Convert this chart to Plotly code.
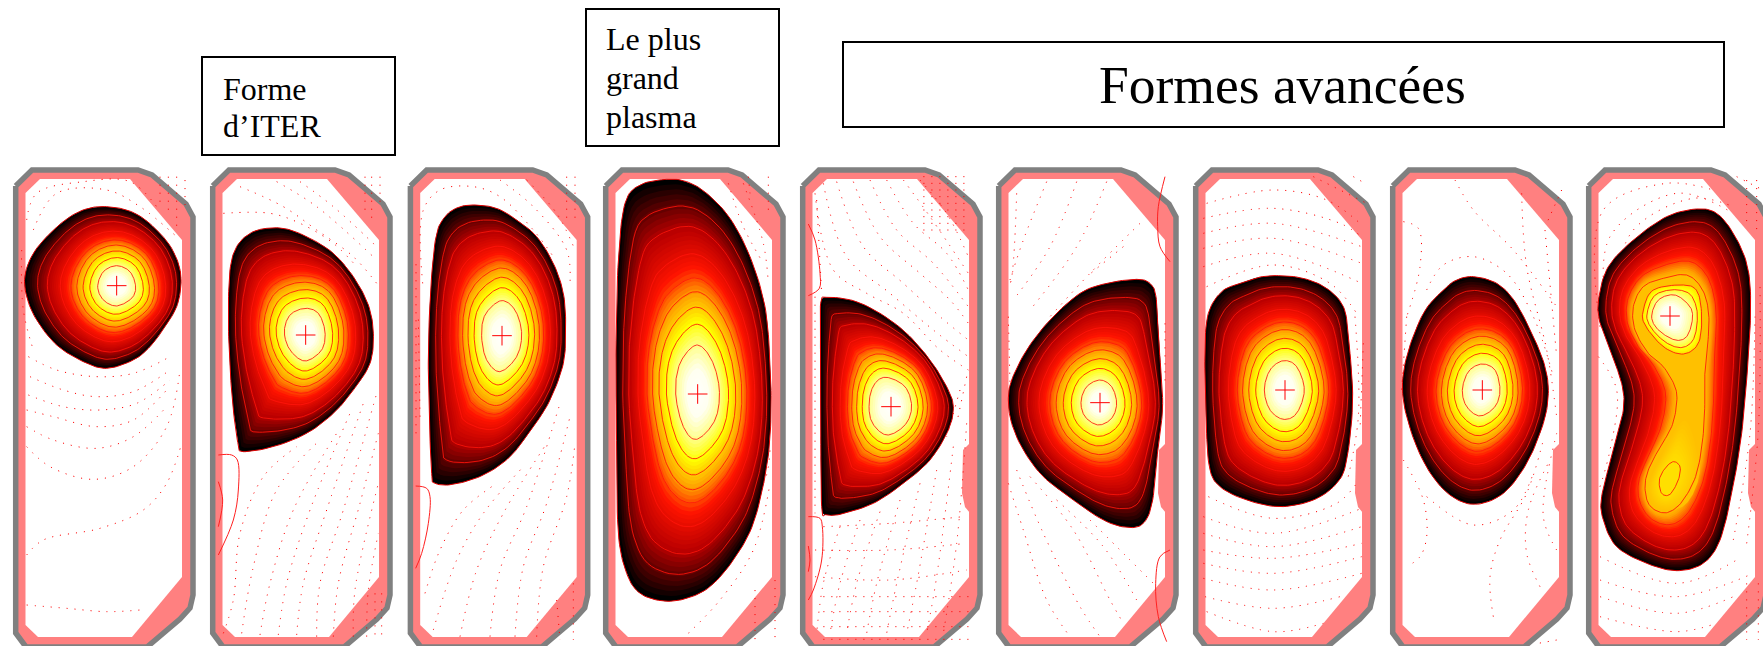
import numpy as np
import plotly.graph_objects as go

W, H = 1763, 646
CROP_Y = 150
panel_offset = [0, 197, 394.7, 590, 787, 983, 1180, 1377, 1573]
crop_x = [0, 0, 400, 400, 790, 790, 1180, 1180, 1400]

vessel_outline = [(15.7,186),(32,170),(138,170),(152,175),(186,204),(193,217),(193,595),(190,608),(180,619),(156,640),(147,647),(26,647),(15.7,633)]
vessel_inner = [(40,179),(130,179),(182,240),(182,577),(132,637),(38,637),(25.5,625),(25.5,193)]
vessel_bump = [(183,443),(176,450),(175,493),(178,507),(183,513)]
bump_panels = [4, 5, 6, 7, 8]

centres = [(350,407),(917,555),(306,557),(893,732),(303,770),(930,758),(315,720),(907,720),(810,498)]

plasma_1 = [(320,170),(380,180),(430,205),(480,250),(515,295),(538,350),(543,405),(530,470),(495,530),(450,590),(400,630),(320,655),(250,635),(170,585),(110,510),(80,440),(75,375),(100,310),(150,250),(210,200),(265,175)]
inner_1 = [(350,347),(390,365),(407,410),(395,445),(350,468),(310,450),(293,410),(310,365)]
plasma_2 = [(800,235),(860,237),(930,265),(1000,310),(1060,380),(1105,465),(1120,550),(1110,640),(1060,720),(1000,790),(920,850),(820,890),(730,905),(715,885),(700,780),(690,650),(685,500),(690,360),(710,290),(750,250)]
inner_2 = [(915,475),(955,490),(975,545),(965,600),(915,633),(870,600),(853,545),(870,495)]
plasma_3 = [(225,165),(290,175),(350,210),(410,260),(460,340),(490,430),(497,530),(490,640),(450,750),(400,830),(330,920),(250,975),(160,1003),(105,1000),(95,970),(88,800),(85,620),(92,420),(108,260),(135,200),(175,172)]
inner_3 = [(303,452),(345,480),(365,550),(350,620),(300,665),(260,630),(245,560),(255,495)]
plasma_4 = [(800,88),(860,95),(920,130),(990,205),(1050,320),(1095,470),(1110,640),(1113,800),(1100,950),(1060,1120),(1000,1230),(930,1310),(860,1345),(790,1353),(720,1330),(680,1270),(655,1150),(650,900),(648,600),(655,330),(675,160),(720,105)]
inner_4 = [(890,585),(935,630),(958,720),(945,810),(890,868),(850,830),(827,730),(840,640)]
plasma_5 = [(110,442),(190,452),(270,490),(350,550),(420,630),(470,710),(490,770),(475,840),(420,930),(340,1000),(250,1060),(150,1093),(110,1093),(95,1070),(92,800),(90,600),(92,460)]
inner_5 = [(290,682),(345,710),(365,770),(345,825),(290,855),(245,815),(238,750),(255,700)]
plasma_6 = [(1040,388),(1080,400),(1098,440),(1105,560),(1118,760),(1105,880),(1088,1050),(1060,1120),(1010,1132),(940,1110),(850,1050),(760,980),(700,900),(665,820),(655,750),(665,690),(710,600),(780,510),(870,430),(950,400)]
inner_6 = [(930,690),(965,710),(980,760),(965,805),(925,825),(885,800),(873,755),(890,710)]
plasma_7 = [(295,377),(370,385),(440,415),(490,470),(505,560),(518,750),(500,930),(470,1000),(400,1050),(300,1070),(200,1050),(120,1010),(88,950),(78,800),(75,600),(85,490),(125,425),(180,400),(235,382)]
inner_7 = [(310,632),(350,650),(373,720),(350,790),(310,808),(270,780),(253,720),(270,660)]
plasma_8 = [(880,380),(950,400),(1005,455),(1060,560),(1095,650),(1105,730),(1090,820),(1040,940),(970,1030),(885,1063),(810,1035),(745,960),(695,850),(668,730),(680,620),(730,490),(790,420),(830,390)]
inner_8 = [(905,642),(945,660),(960,720),(945,770),(900,798),(860,770),(847,720),(865,665)]
plasma_9 = [(890,177),(950,190),(1000,250),(1040,340),(1052,450),(1045,620),(1025,850),(995,1030),(960,1170),(910,1240),(830,1262),(740,1240),(650,1190),(610,1110),(605,1040),(640,900),(670,780),(665,700),(630,600),(598,510),(597,440),(625,350),(700,270),(800,200)]
waist_9 = [(860,375),(905,415),(925,480),(925,560),(915,650),(915,730),(910,850),(890,970),(850,1050),(810,1085),(775,1085),(745,1060),(735,1010),(745,960),(775,900),(815,830),(830,760),(825,710),(790,650),(745,610),(705,540),(700,470),(730,410),(790,385)]
upper_loop_9 = [(850,405),(892,425),(905,500),(895,580),(850,612),(790,590),(735,525),(730,480),(760,420)]
upper_inner_9 = [(825,435),(870,470),(877,510),(860,560),(825,570),(775,540),(755,500),(775,450)]
lower_region_9 = [(860,800),(900,950),(860,1060),(780,1080),(742,1020),(790,900)]
lower_lobe_9 = [(820,935),(840,950),(835,990),(810,1033),(785,1030),(778,990),(795,955)]
lobe_centre_9 = (808,985)

plasma_outer = [plasma_1,plasma_2,plasma_3,plasma_4,plasma_5,plasma_6,plasma_7,plasma_8]
plasma_inner = [inner_1,inner_2,inner_3,inner_4,inner_5,inner_6,inner_7,inner_8]

contour_levels = [0.2,0.31,0.4,0.48,0.55,0.67,0.8,0.89]
colour_stops = [0,0.11,0.2,0.33,0.48,0.61,0.8,0.9,1]
colour_red = [255,255,255,255,255,255,185,100,0]
colour_green = [255,255,255,255,160,20,0,0,0]
colour_blue = [255,240,150,0,0,0,0,0,0]

# dotted flux lines, one list per panel, crop pixels
dots_1 = [[(85,620),(170,660),(290,680),(400,670),(510,620)],[(90,680),(190,720),(290,740),(400,725),(510,660)],[(85,735),(190,770),(300,780),(410,760),(510,690)],[(80,780),(160,800),(290,830),(400,810),(500,720)],[(80,830),(160,870),(290,895),(400,860),(500,770)],[(80,890),(150,950),(280,988),(400,950),(500,830),(540,660)],[(80,1215),(130,1170),(300,1135),(430,1080),(500,1000),(545,880)],[(80,1365),(200,1375),(320,1385),(420,1380)],[(80,210),(110,130),(250,95),(390,95),(470,170)],[(100,240),(170,130),(320,120),(420,170),(530,260)],[(65,300),(70,480),(100,600)],[(505,80),(505,200)],[(530,80),(530,230)],[(555,90),(555,180)],[(480,80),(480,170)]]
dots_2 = [[(670,190),(810,190),(900,220),(1000,280),(1070,350)],[(720,110),(850,170),(950,240),(1060,320),(1130,400)],[(830,95),(950,170),(1130,330)],[(900,95),(1000,170),(1130,290)],[(1095,80),(1095,200)],[(1115,80),(1115,210)],[(1140,80),(1140,170)],[(670,1450),(700,1350),(720,1150),(790,980),(890,890)],[(725,1450),(760,1250),(830,1020),(960,870)],[(780,1455),(810,1300),(880,1080),(1010,850)],[(835,1455),(860,1300),(930,1080),(1050,790)],[(890,1455),(910,1300),(980,1080),(1090,760)],[(950,1460),(960,1300),(1030,1080),(1130,730)],[(1000,1460),(1015,1300),(1080,1060),(1135,850)],[(1060,1460),(1065,1320),(1135,1000)],[(1100,1460),(1105,1320),(1135,1150)],[(1125,1330),(1125,1470)],[(1145,1330),(1145,1470)]]
dots_3 = [[(68,400),(70,180),(120,120),(220,110),(300,140),(400,240),(460,320)],[(60,800),(55,500)],[(48,850),(48,330)],[(300,90),(400,170),(500,300),(510,400)],[(380,90),(470,190),(525,300)],[(500,80),(500,210)],[(525,80),(525,220)],[(75,1330),(120,1200),(190,1080),(290,1000)],[(100,1440),(170,1230),(250,1090),(370,950)],[(180,1460),(230,1260),(310,1090),(440,880)],[(270,1460),(300,1260),(380,1070),(480,760)],[(345,1460),(370,1250),(440,1060),(510,800)],[(410,1460),(430,1250),(500,1040),(525,880)],[(470,1350),(480,1470)],[(520,1300),(520,1470)]]
dots_4 = [[(985,100),(1030,230),(1090,340)],[(1030,100),(1090,280),(1105,400)],[(1105,80),(1105,180)],[(1045,80),(1050,130)],[(990,1100),(1090,1000),(1110,900)],[(865,1450),(960,1350),(1060,1200),(1110,1000)],[(1065,1320),(1065,1470)],[(1125,1290),(1125,1470)]]
dots_5 = [[(75,130),(130,360),(230,430),(340,490),(450,600),(535,660)],[(100,100),(170,320),(300,430),(430,540),(535,620)],[(140,95),(220,290),(340,400),(450,500),(535,570)],[(190,95),(270,260),(390,370),(480,450),(535,520)],[(240,90),(320,240),(430,340),(535,470)],[(290,90),(370,220),(470,310),(535,420)],[(340,90),(420,200),(535,370)],[(390,90),(470,190),(535,320)],[(80,150),(95,430)],[(75,440),(75,1090)],[(150,1130),(100,1300),(80,1450)],[(210,1110),(150,1300),(120,1450)],[(270,1085),(200,1300),(170,1450)],[(330,1050),(260,1300),(230,1450)],[(390,1000),(320,1300),(290,1450)],[(440,960),(380,1300),(350,1450)],[(490,890),(440,1280),(410,1450)],[(530,820),(500,1180),(460,1450)],[(100,1130),(300,1120),(520,1100)],[(75,1200),(300,1200),(530,1180)],[(75,1280),(300,1290),(530,1260)],[(530,680),(500,820)],[(510,720),(470,860)]]
dots_5_rows = [80,100,120,140,160,180,200,220,240,1340,1385,1430,1468]
dots_6 = [[(680,130),(660,400),(655,400)],[(770,95),(700,270),(660,390)],[(860,95),(780,290),(670,450)],[(950,95),(860,290),(720,480)],[(1050,220),(900,370),(780,500)],[(1000,290),(890,380)],[(655,1000),(700,1140),(770,1350),(840,1460)],[(680,960),(760,1150),(870,1370),(930,1460)],[(720,980),(850,1140),(960,1350),(1000,1420)],[(800,1050),(940,1190),(1040,1350)],[(900,1110),(1010,1220),(1090,1300)],[(1125,520),(1125,700)],[(655,500),(660,700)]]
dots_7 = [[(80,160),(280,120),(440,150),(540,220)],[(70,205),(280,175),(480,220),(545,260)],[(70,250),(280,220),(545,290)],[(70,295),(280,265),(545,340)],[(70,350),(280,310),(545,400)],[(80,410),(280,345),(450,400),(530,490)],[(85,1040),(280,1105),(470,1060),(530,1000)],[(70,1100),(280,1150),(545,1075)],[(70,1150),(280,1190),(545,1130)],[(70,1200),(280,1225),(545,1180)],[(70,1240),(280,1270),(545,1220)],[(70,1285),(280,1320),(545,1270)],[(75,1340),(280,1375),(480,1340)],[(80,1385),(280,1445),(430,1420)],[(525,500),(535,800),(500,1000)],[(550,580),(540,840)],[(520,80),(555,100)],[(400,80),(560,160)]]
dots_8 = [[(825,90),(880,180),(1000,300),(1130,470)],[(670,215),(715,235),(720,350),(680,500)],[(680,500),(665,720)],[(670,930),(730,1050),(740,1160),(720,1220),(680,1250)],[(740,420),(790,345),(880,320),(980,370),(1060,500),(1120,680)],[(740,1040),(880,1125),(1000,1080),(1060,970)],[(1025,130),(1040,350),(1100,600),(1130,800)],[(1095,240),(1130,620)],[(940,1400),(930,1280),(960,1170),(1040,1030),(1090,870)],[(1080,1310),(1040,1210),(1045,1080),(1110,930)],[(1130,1200),(1090,1100),(1130,850)],[(1145,120),(1100,220)],[(1130,1470),(1075,1480)]]
dots_9 = [[(600,530),(610,180),(800,100),(940,120)],[(620,500),(630,260),(830,130),(1000,190)],[(640,420),(700,240),(880,145),(1000,170)],[(595,620),(650,720),(630,900),(600,1010)],[(1040,1180),(1075,840),(1080,400)],[(1000,1170),(1050,850),(1065,500)],[(600,1220),(830,1300),(1010,1230)],[(600,1290),(830,1340),(1060,1270)],[(600,1340),(830,1390),(1000,1340)],[(600,1400),(830,1445),(950,1420)],[(1010,80),(1089,120)],[(1040,90),(1040,230)],[(1070,90),(1070,240)],[(1040,1300),(1040,1470)],[(1075,1300),(1075,1470)]]
dotted_panels = [dots_1,dots_2,dots_3,dots_4,dots_5,dots_6,dots_7,dots_8,dots_9]

solid_2 = [[(655,915),(695,915),(712,930),(715,1020),(700,1110),(655,1215)],[(655,995),(668,1050),(655,1130)]]
solid_3 = [[(47,1008),(80,1015),(90,1040),(85,1120),(65,1210),(47,1255)]]
solid_5 = [[(55,222),(75,270),(90,370),(88,415),(55,437)],[(55,1100),(90,1105),(97,1130),(95,1230),(70,1320),(55,1350)],[(55,1188),(60,1230),(55,1265)]]
solid_6 = [[(1125,80),(1105,170),(1103,230),(1110,290),(1140,335)],[(1140,1200),(1110,1220),(1097,1300),(1105,1400),(1130,1475)]]
solid_panels = {1:solid_2, 2:solid_3, 4:solid_5, 5:solid_6}

boxes = [(202,57,395,155),(586,9,779,146),(843,42,1724,127)]
labels = ["Forme","d\u2019ITER","Le plus","grand","plasma","Formes avanc\u00e9es"]
label_x = [220.5,220.5,604,604,604,1282]
label_y = [89,126,39,78,117,85]
label_size = [32,32,32,32,32,53.5]
label_anchor = ["left","left","left","left","left","center"]


def px(panel, pts):
    return [(crop_x[panel] + x/3, CROP_Y + y/3) for x, y in pts]

def smooth(pts, n=10):
    p = np.array(pts, float)
    out = []
    m = len(p)
    for i in range(m):
        a, b, c, d = p[(i-1) % m], p[i], p[(i+1) % m], p[(i+2) % m]
        for t in np.linspace(0, 1, n, endpoint=False):
            out.append(0.5*((2*b)+(-a+c)*t+(2*a-5*b+4*c-d)*t*t+(-a+3*b-3*c+d)*t*t*t))
    return np.array(out)

def colour(u):
    r = np.interp(u, colour_stops, colour_red)
    g = np.interp(u, colour_stops, colour_green)
    b = np.interp(u, colour_stops, colour_blue)
    return f"rgb({r:.0f},{g:.0f},{b:.0f})"

theta = np.linspace(-np.pi, np.pi, 241)
def radial(pts, c):
    d = smooth(pts) - c
    a = np.arctan2(d[:,1], d[:,0])
    r = np.hypot(d[:,0], d[:,1])
    o = np.argsort(a)
    return np.interp(theta, a[o], r[o], period=2*np.pi)

fig = go.Figure()

def poly(xy, fill=None, line=None, width=1, dash=None):
    xy = np.asarray(xy)
    x = list(xy[:,0]) + [xy[0,0]]
    y = list(xy[:,1]) + [xy[0,1]]
    fig.add_trace(go.Scatter(x=x, y=y, mode="lines", hoverinfo="skip",
        fill="toself" if fill else "none", fillcolor=fill,
        line=dict(color=line or "rgba(0,0,0,0)", width=width if line else 0, dash=dash)))

def polar_stack(c, outer, inner, u_outer, u_inner, bands, levels, to_zero=True, rounding=True):
    ro, ri = radial(outer, c), radial(inner, c)
    def ring(u):
        if u >= u_inner:
            f = (u-u_inner)/(u_outer-u_inner)
            lin = ri + f*(ro-ri)
            if rounding:
                rnd = ri*lin.mean()/ri.mean()
                w = f**1.5
                r = (1-w)*rnd + w*lin
            else:
                r = lin
        else:
            r = ri*u/u_inner
        return np.column_stack([c[0]+r*np.cos(theta), c[1]+r*np.sin(theta)])
    us = np.linspace(u_outer, 0.004 if to_zero else u_inner, bands)
    for u in us:
        poly(ring(u), fill=colour(u))
    for u in levels:
        poly(ring(u), line=CONTOUR, width=1)

CONTOUR = "rgba(255,20,10,0.85)"
BANDS = 50

# vessels
for i, off in enumerate(panel_offset):
    poly([(x+off, y) for x, y in vessel_outline], fill="#ff8080", line="#808080", width=5.5)
    poly([(x+off, y) for x, y in vessel_inner], fill="#ffffff")
    if i in bump_panels:
        poly([(x+off, y) for x, y in vessel_bump], fill="#ff8080")

# dotted field lines and thin red lines
for i, group in enumerate(dotted_panels):
    xs, ys = [], []
    for line in group:
        for x, y in px(i, line):
            xs.append(x); ys.append(y)
        xs.append(None); ys.append(None)
    if i == 4:
        for r in dots_5_rows:
            for x, y in px(i, [(400 if r < 500 else 100, r), (540, r)]):
                xs.append(x); ys.append(y)
            xs.append(None); ys.append(None)
    fig.add_trace(go.Scatter(x=xs, y=ys, mode="lines", hoverinfo="skip",
        line=dict(color="#ff0000", width=1, dash="1.1px,6.9px", shape="spline")))
for i, group in solid_panels.items():
    for line in group:
        pts = px(i, line)
        fig.add_trace(go.Scatter(x=[p[0] for p in pts], y=[p[1] for p in pts], mode="lines", hoverinfo="skip",
            line=dict(color="#ff2020", width=1, shape="spline")))

# plasmas 1 to 8
for i in range(8):
    c = np.array(px(i, [centres[i]])[0])
    polar_stack(c, px(i, plasma_outer[i]), px(i, plasma_inner[i]), 1.0, 0.2, BANDS, contour_levels)
    poly(smooth(px(i, plasma_outer[i])), line="#e00000", width=1)

# plasma 9: two lobes
B9, W9 = smooth(px(8, plasma_9)), smooth(px(8, waist_9))
u_w = 0.43
for u in np.linspace(1, u_w, 36):
    poly(W9 + (u-u_w)/(1-u_w)*(B9-W9), fill=colour(u))
c9 = np.array(px(8, [centres[8]])[0])
cl = np.array(px(8, [lobe_centre_9])[0])
polar_stack(cl, px(8, lower_region_9), px(8, lower_lobe_9), u_w, 0.38, 12, [], to_zero=False, rounding=False)
poly(smooth(px(8, lower_lobe_9)), line=CONTOUR, width=1)
polar_stack(c9, px(8, upper_loop_9), px(8, upper_inner_9), 0.37, 0.2, 22, [0.29, 0.2], rounding=False)
poly(smooth(px(8, upper_loop_9)), line=CONTOUR, width=1)
for u in [0.43, 0.55, 0.67, 0.8, 0.89]:
    poly(W9 + (u-u_w)/(1-u_w)*(B9-W9), line=CONTOUR, width=1)
poly(B9, line="#e00000", width=1)

# magnetic axes
cx, cy = zip(*[px(i, [centres[i]])[0] for i in range(9)])
fig.add_trace(go.Scatter(x=cx, y=cy, mode="markers", hoverinfo="skip",
    marker=dict(symbol="cross-thin", size=14, line=dict(color="#ff0000", width=1))))

shapes = [dict(type="rect", x0=a, y0=b, x1=c, y1=d, line=dict(color="black", width=2), fillcolor="white", layer="above")
          for a, b, c, d in boxes]
annotations = [dict(x=x, y=y, text=t, showarrow=False, xanchor=an, yanchor="middle",
                    font=dict(family="Liberation Serif", size=s, color="black"))
               for t, x, y, s, an in zip(labels, label_x, label_y, label_size, label_anchor)]

fig.update_layout(width=W, height=H, margin=dict(l=0, r=0, t=0, b=0), showlegend=False,
    paper_bgcolor="white", plot_bgcolor="white", shapes=shapes, annotations=annotations,
    xaxis=dict(range=[0, W], visible=False, fixedrange=True),
    yaxis=dict(range=[H, 0], visible=False, fixedrange=True))
fig.write_html("out.html", config=dict(displayModeBar=False),
               post_script="document.body.style.margin='0';document.documentElement.style.overflow='hidden';")
